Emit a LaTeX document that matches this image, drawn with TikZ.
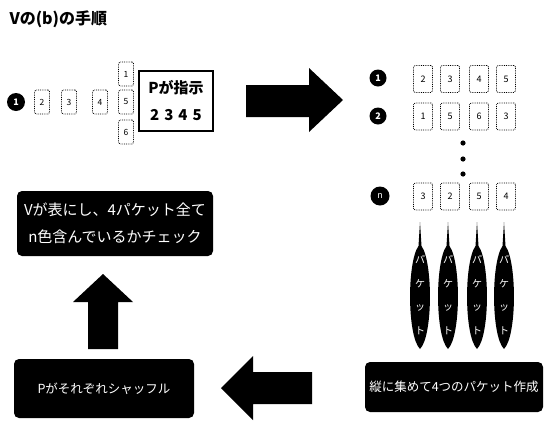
\documentclass[tikz,border=0pt]{standalone}
\usepackage{fontspec}
\setmainfont{Noto Sans CJK JP}
\usepackage{tikz}

\begin{document}
\begin{tikzpicture}[x=1pt, y=-1pt,
		card/.style={draw, densely dotted, line width=0.8pt, rounded corners=1.5pt, minimum width=15pt, minimum height=24pt, inner sep=0pt, font=\fontsize{8.5}{8.5}\selectfont},
		bigcard/.style={card, minimum width=19pt, minimum height=27pt, font=\fontsize{9}{9}\selectfont},
		num/.style={circle, fill=black, text=white, inner sep=0pt, minimum size=17pt, font=\fontsize{9}{9}\selectfont\bfseries},
		stepbox/.style={fill=black, rounded corners=5pt, text=white, inner sep=2pt, align=center},
		blockarrow/.style={fill=black}]
			\useasboundingbox (0,0) rectangle (549,421);
			\node[anchor=west, font=\fontsize{16}{16}\selectfont\bfseries] (title) at (6,19) {Vの(b)の手順};
			% P chooses the cards
			\node[num, minimum size=18pt] (p1) at (16,102) {1};
			\node[card] (c2) at (42,102) {2};
			\node[card] (c3) at (69,102) {3};
			\node[card] (c4) at (100,102) {4};
			\node[card] (c1) at (126,74) {1};
			\node[card] (c5) at (126,102) {5};
			\node[card] (c6) at (126,132) {6};
			\node[draw, line width=1.2pt, minimum width=74pt, minimum height=60pt, align=center, inner sep=0pt,
				font=\fontsize{15}{27}\selectfont\bfseries] (order) at (176,101) {Pが指示\\2\,\,3\,\,4\,\,5};
			\fill[blockarrow] (246,85) -- (309,85) -- (309,68) -- (343,100) -- (309,132) -- (309,117) -- (246,117) -- cycle;
			% rows of cards
			\node[num] (r1) at (378,78) {1};
			\node[num] (r2) at (378,116) {2};
			\node[num, minimum size=19pt, font=\fontsize{9}{9}\selectfont\itshape] (rn) at (380,196) {n};
			\node[bigcard] (a1) at (423,79) {2};
			\node[bigcard] (a2) at (450,79) {3};
			\node[bigcard] (a3) at (479,79) {4};
			\node[bigcard] (a4) at (506,79) {5};
			\node[bigcard] (b1) at (423,116.5) {1};
			\node[bigcard] (b2) at (450,116.5) {5};
			\node[bigcard] (b3) at (479,116.5) {6};
			\node[bigcard] (b4) at (506,116.5) {3};
			\node[bigcard] (n1) at (423,196.5) {3};
			\node[bigcard] (n2) at (450,196.5) {2};
			\node[bigcard] (n3) at (479,196.5) {5};
			\node[bigcard] (n4) at (506,196.5) {4};
			\fill (463,143) circle (2.6pt);
			\fill (463,159) circle (2.6pt);
			\fill (463,174) circle (2.6pt);
			% the four packets
			\foreach \px [count=\k] in {420,448,477,504} {
				\fill (\px,222) -- (\px+1.5,246) .. controls (\px+13,262) and (\px+13,336) .. (\px,349)
					.. controls (\px-13,336) and (\px-13,262) .. (\px-1.5,246) -- cycle;
				\node[text=white, align=center, inner sep=0pt, font=\fontsize{10}{23.5}\selectfont] (packet\k) at (\px,295) {パ\\ケ\\ッ\\ト};
			}
			\node[stepbox, minimum width=178pt, minimum height=50pt, font=\fontsize{12.5}{12.5}\selectfont] (collect) at (454,387) {縦に集めて4つのパケット作成};
			\fill[blockarrow] (312,372) -- (253,372) -- (253,356) -- (221,388) -- (253,420) -- (253,404) -- (312,404) -- cycle;
			\node[stepbox, minimum width=180pt, minimum height=59pt, font=\fontsize{12.5}{12.5}\selectfont] (shuffle) at (104,388.5) {Pがそれぞれシャッフル};
			\fill[blockarrow] (88,349) -- (88,302) -- (73,302) -- (103,274) -- (133,302) -- (118,302) -- (118,349) -- cycle;
			\node[stepbox, minimum width=196pt, minimum height=65pt, font=\fontsize{15}{27}\selectfont] (check) at (115,223.5) {Vが表にし、4パケット全て\\n色含んでいるかチェック};
		\end{tikzpicture}
\end{document}
